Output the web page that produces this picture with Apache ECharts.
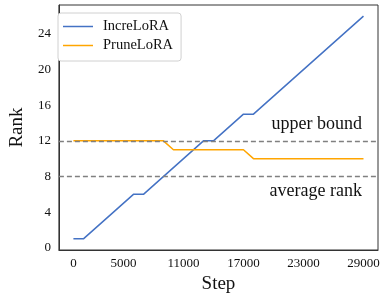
<!DOCTYPE html>
<html><head><meta charset="utf-8">
<script src="https://cdn.jsdelivr.net/npm/echarts@6/dist/echarts.min.js"></script>
<style>html,body{margin:0;padding:0;background:#fff}#c{width:388px;height:299px}</style>
</head><body><div id="c"></div>
<script>
var incSteps = [0, 1000, 6000, 7000, 13000, 14000, 17000, 18000, 29000];
var incRank  = [1, 1, 6, 6, 12, 12, 15, 15, 26];
var pruSteps = [0, 9000, 10000, 17000, 18000, 29000];
var pruRank  = [12, 12, 11, 11, 10, 10];
var xTicks = [0, 5000, 11000, 17000, 23000, 29000];
var yTicks = [0, 4, 8, 12, 16, 20, 24];
var upperBound = 12, avgRank = 8;

function pairs(xs, ys){ return xs.map(function(x,i){ return [x, ys[i]]; }); }
var F = 'Liberation Serif';
var chart = echarts.init(document.getElementById('c'), null, {renderer:'canvas'});
chart.setOption({
  animation:false,
  grid:{left:50,right:10,top:5,bottom:49,show:true,borderColor:'#333',borderWidth:1,backgroundColor:'transparent'},
  legend:{
    orient:'vertical', left:58, top:13,
    icon:'rect', itemWidth:30, itemHeight:1.5, itemGap:4,
    padding:[6,8,8,5],
    backgroundColor:'#fff', borderColor:'#d0d0d0', borderWidth:1, borderRadius:3,
    textStyle:{fontFamily:F,fontSize:14.5,color:'#111',padding:[0,0,0,5]},
    data:['IncreLoRA','PruneLoRA']
  },
  xAxis:{
    type:'value', min:-1450, max:30450,
    name:'Step', nameLocation:'middle', nameGap:23,
    nameTextStyle:{fontFamily:F,fontSize:19,color:'#111'},
    axisLine:{show:true,onZero:false,lineStyle:{color:'#333',width:1}},
    axisTick:{show:false},
    splitLine:{show:false},
    axisLabel:{customValues:xTicks,formatter:function(v){return String(v);},fontFamily:F,fontSize:13,color:'#111',margin:7}
  },
  yAxis:{
    type:'value', min:-0.25, max:27.25,
    name:'Rank', nameLocation:'middle', nameGap:29,
    nameTextStyle:{fontFamily:F,fontSize:19,color:'#111'},
    axisLine:{show:true,onZero:false,lineStyle:{color:'#333',width:1}},
    axisTick:{show:false},
    splitLine:{show:false},
    axisLabel:{customValues:yTicks,formatter:function(v){return String(v);},fontFamily:F,fontSize:13,color:'#111',margin:8}
  },
  series:[
    {name:'IncreLoRA',type:'line',symbol:'none',data:pairs(incSteps,incRank),
     lineStyle:{color:'#4472C4',width:1.5},itemStyle:{color:'#4472C4'},z:3},
    {name:'PruneLoRA',type:'line',symbol:'none',data:pairs(pruSteps,pruRank),
     lineStyle:{color:'#FFA500',width:1.5},itemStyle:{color:'#FFA500'},z:3,
     markLine:{
       silent:true, symbol:'none',
       lineStyle:{color:'#808080',width:1.3,type:[5,3]},
       data:[
         {yAxis:upperBound,label:{show:true,position:'insideEndTop',formatter:'upper bound',fontFamily:F,fontSize:18,color:'#111',distance:[16,8]}},
         {yAxis:avgRank,label:{show:true,position:'insideEndBottom',formatter:'average rank',fontFamily:F,fontSize:18,color:'#111',distance:[16,6]}}
       ]
     }}
  ]
});
</script></body></html>
